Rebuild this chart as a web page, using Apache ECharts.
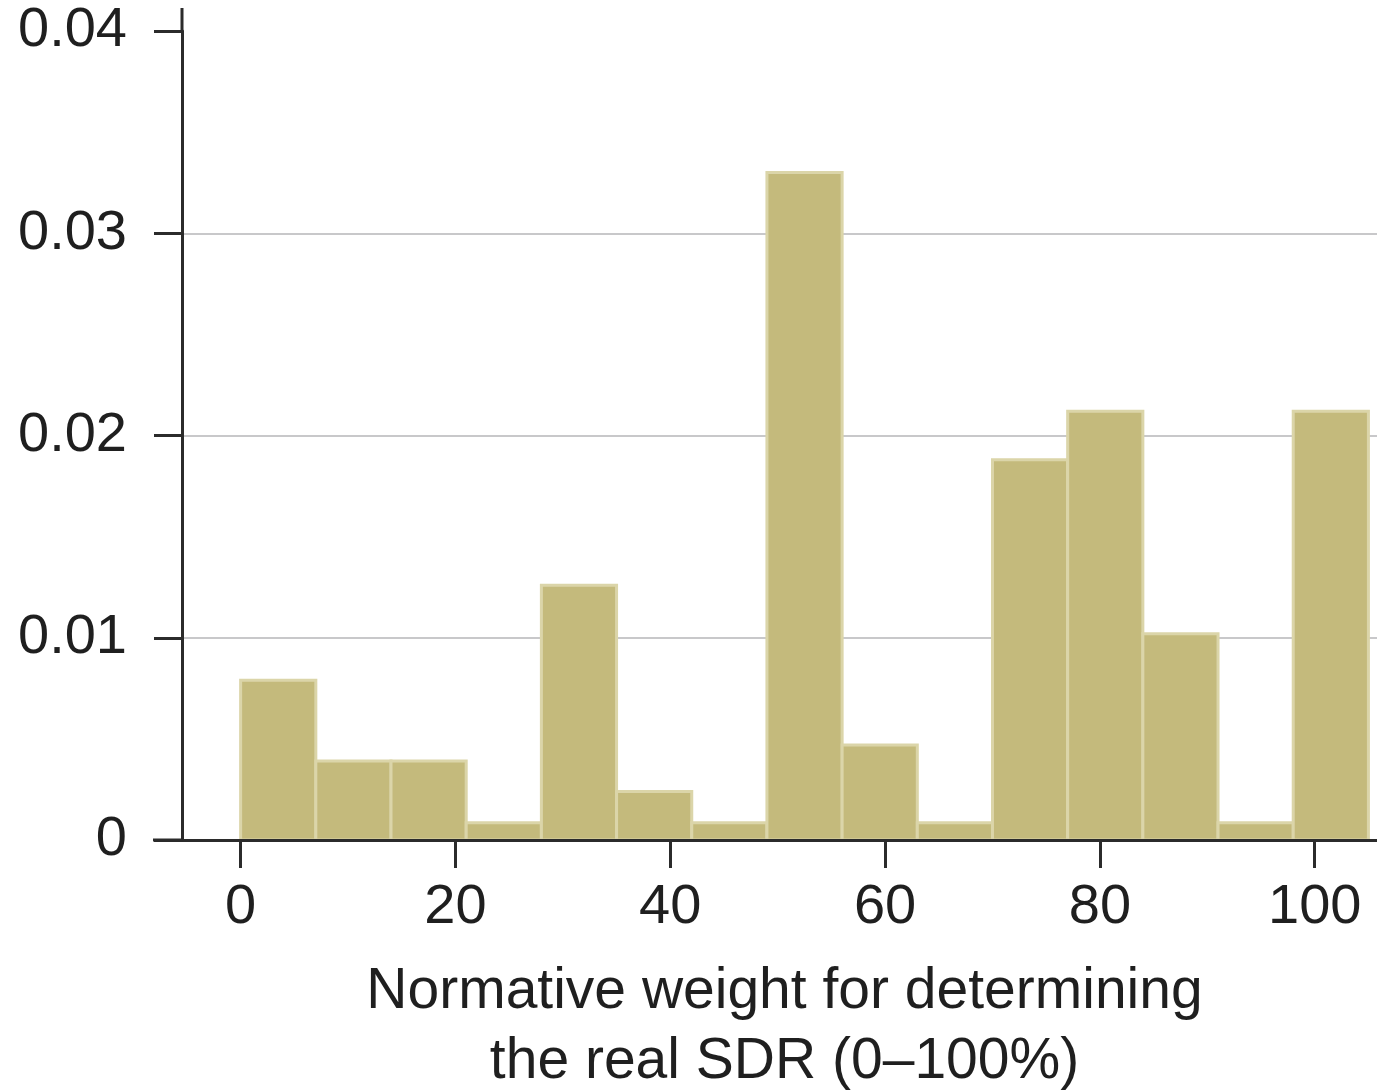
<!DOCTYPE html>
<html>
<head>
<meta charset="utf-8">
<title>Normative weight for determining the real SDR</title>
<script src="https://cdn.jsdelivr.net/npm/echarts@6/dist/echarts.min.js"></script>
<style>
  html, body { margin: 0; padding: 0; background: #ffffff; }
  #chart { width: 1377px; height: 1092px; }
</style>
</head>
<body>
<div id="chart"></div>
<script>
// Histogram bins (percentage points) and their densities
const binEdges = [0, 7, 14, 21, 28, 35, 42, 49, 56, 63, 70, 77, 84, 91, 98, 105];
const density = [0.0079, 0.0039, 0.0039, 0.00085, 0.0126, 0.0024, 0.00085, 0.0330,
                 0.0047, 0.00085, 0.0188, 0.0212, 0.0102, 0.00085, 0.0212];
const xTicks = [0, 20, 40, 60, 80, 100];
const yTicks = [0, 0.01, 0.02, 0.03, 0.04];
const xTitle = 'Normative weight for determining\nthe real SDR (0\u2013100%)';

const bins = density.map((d, i) => [binEdges[i], binEdges[i + 1], d]);

const FONT = '"Liberation Sans", Arial, Helvetica, sans-serif';
const INK = '#1f1f1f';
const AXIS = '#2b2b2b';

const chart = echarts.init(document.getElementById('chart'), null, { renderer: 'canvas' });

chart.setOption({
  animation: false,
  backgroundColor: '#ffffff',
  grid: { left: 182, right: 0, top: 31, bottom: 252, containLabel: false, outerBoundsMode: 'none' },
  xAxis: {
    type: 'value',
    min: -5.46,
    max: 105.8,
    z: 5,
    axisLine: {
      show: true,
      onZero: false,
      // short stub carrying the baseline past the y axis
      symbol: ['rect', 'none'],
      symbolSize: [3, 30],
      symbolOffset: [-14, 0],
      lineStyle: { color: AXIS, width: 3 }
    },
    axisTick: {
      show: true,
      length: 28,
      customValues: xTicks,
      lineStyle: { color: AXIS, width: 3 }
    },
    axisLabel: {
      show: true,
      customValues: xTicks,
      margin: 40,
      fontSize: 56,
      fontFamily: FONT,
      color: INK
    },
    splitLine: { show: false },
    name: xTitle,
    nameLocation: 'middle',
    nameGap: 117,
    nameTextStyle: {
      fontSize: 57,
      lineHeight: 70,
      fontFamily: FONT,
      color: INK,
      align: 'center',
      padding: [0, 0, 0, 10]
    }
  },
  yAxis: {
    type: 'value',
    min: 0,
    max: 0.04,
    interval: 0.01,
    axisLine: {
      show: true,
      onZero: false,
      // the axis runs a little past its top tick
      symbol: ['none', 'rect'],
      symbolSize: [3, 24],
      symbolOffset: [0, 11],
      lineStyle: { color: AXIS, width: 3 }
    },
    axisTick: {
      show: true,
      length: 28,
      customValues: yTicks,
      lineStyle: { color: AXIS, width: 3 }
    },
    axisLabel: {
      show: true,
      customValues: yTicks,
      margin: 55,
      fontSize: 56,
      fontFamily: FONT,
      color: INK,
      formatter: v => (v === 0 ? '0' : v.toFixed(2))
    },
    splitLine: {
      show: true,
      showMinLine: false,
      showMaxLine: false,
      lineStyle: { color: '#c8c8ca', width: 2 }
    }
  },
  series: [{
    type: 'custom',
    z: 2,
    data: bins,
    encode: { x: [0, 1], y: 2 },
    renderItem: function (params, api) {
      const topLeft = api.coord([api.value(0), api.value(2)]);
      const bottomRight = api.coord([api.value(1), 0]);
      return {
        type: 'rect',
        shape: {
          x: topLeft[0],
          y: topLeft[1],
          width: bottomRight[0] - topLeft[0],
          height: bottomRight[1] - topLeft[1]
        },
        style: { fill: '#c4ba7c', stroke: '#dbd5a9', lineWidth: 3 }
      };
    }
  }]
});
</script>
</body>
</html>
